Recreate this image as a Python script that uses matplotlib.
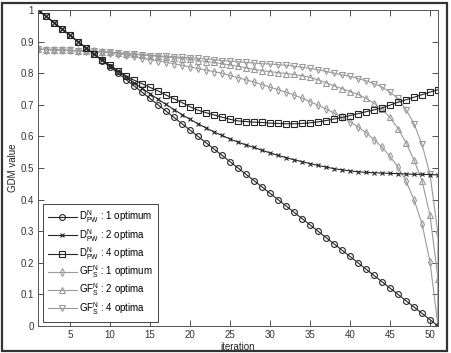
import matplotlib
matplotlib.use("Agg")
import matplotlib.pyplot as plt
from matplotlib.patches import Rectangle

plt.rcParams['font.family'] = ['Liberation Sans', 'DejaVu Sans']
plt.rcParams['mathtext.fontset'] = 'custom'
plt.rcParams['mathtext.rm'] = 'Liberation Sans'
plt.rcParams['mathtext.it'] = 'Liberation Sans:italic'
plt.rcParams['mathtext.bf'] = 'Liberation Sans:bold'

iterations = list(range(1, 52))

d_pw_1opt = [1.00, 0.98, 0.96, 0.94, 0.92, 0.90, 0.88, 0.86, 0.84, 0.82,
             0.80, 0.78, 0.76, 0.74, 0.72, 0.70, 0.68, 0.66, 0.64, 0.62,
             0.60, 0.58, 0.56, 0.54, 0.52, 0.50, 0.48, 0.46, 0.44, 0.42,
             0.40, 0.38, 0.36, 0.34, 0.32, 0.30, 0.28, 0.26, 0.24, 0.22,
             0.20, 0.18, 0.16, 0.14, 0.12, 0.10, 0.08, 0.06, 0.04, 0.02, 0.00]

d_pw_2opt = [1.000, 0.980, 0.960, 0.940, 0.920, 0.900, 0.880, 0.860, 0.842, 0.824,
             0.806, 0.788, 0.770, 0.752, 0.735, 0.718, 0.701, 0.685, 0.669, 0.654,
             0.640, 0.627, 0.614, 0.603, 0.592, 0.582, 0.573, 0.565, 0.556, 0.548,
             0.540, 0.533, 0.526, 0.520, 0.514, 0.508, 0.503, 0.498, 0.494, 0.491,
             0.488, 0.486, 0.485, 0.484, 0.483, 0.482, 0.481, 0.480, 0.480, 0.479, 0.478]

d_pw_4opt = [1.000, 0.980, 0.960, 0.940, 0.920, 0.900, 0.880, 0.860, 0.842, 0.825,
             0.808, 0.792, 0.778, 0.767, 0.755, 0.744, 0.731, 0.719, 0.707, 0.694,
             0.683, 0.675, 0.668, 0.661, 0.654, 0.649, 0.647, 0.645, 0.644, 0.642,
             0.641, 0.640, 0.640, 0.641, 0.643, 0.646, 0.650, 0.655, 0.660, 0.666,
             0.672, 0.678, 0.684, 0.690, 0.699, 0.708, 0.716, 0.724, 0.732, 0.740, 0.748]

gf_s_1opt = [0.876, 0.875, 0.874, 0.873, 0.872, 0.871, 0.870, 0.869, 0.867, 0.865,
             0.862, 0.858, 0.853, 0.848, 0.843, 0.839, 0.835, 0.830, 0.825, 0.820,
             0.815, 0.810, 0.805, 0.800, 0.793, 0.786, 0.779, 0.772, 0.764, 0.756,
             0.748, 0.740, 0.731, 0.721, 0.710, 0.699, 0.687, 0.674, 0.660, 0.646,
             0.630, 0.612, 0.590, 0.566, 0.537, 0.503, 0.458, 0.400, 0.324, 0.203, 0.000]

gf_s_2opt = [0.876, 0.875, 0.874, 0.873, 0.872, 0.871, 0.870, 0.869, 0.868, 0.866,
             0.864, 0.862, 0.860, 0.858, 0.856, 0.853, 0.851, 0.849, 0.846, 0.844,
             0.840, 0.837, 0.834, 0.830, 0.826, 0.822, 0.817, 0.812, 0.808, 0.805,
             0.802, 0.799, 0.796, 0.792, 0.787, 0.779, 0.770, 0.760, 0.751, 0.742,
             0.733, 0.720, 0.705, 0.686, 0.660, 0.625, 0.580, 0.525, 0.460, 0.350, 0.150, 0.000]
gf_s_2opt_x = iterations + [51]

gf_s_4opt = [0.876, 0.875, 0.874, 0.873, 0.872, 0.871, 0.870, 0.869, 0.868, 0.866,
             0.864, 0.862, 0.860, 0.858, 0.856, 0.855, 0.853, 0.852, 0.850, 0.849,
             0.847, 0.845, 0.843, 0.840, 0.838, 0.836, 0.834, 0.832, 0.830, 0.829,
             0.827, 0.825, 0.822, 0.819, 0.815, 0.811, 0.806, 0.800, 0.795, 0.790,
             0.783, 0.776, 0.767, 0.756, 0.740, 0.720, 0.685, 0.640, 0.575, 0.480, 0.292, 0.000]
gf_s_4opt_x = iterations + [51]

labels = [r'$\mathrm{D}_{\mathrm{PW}}^{\mathrm{N}}$ : 1 optimum',
          r'$\mathrm{D}_{\mathrm{PW}}^{\mathrm{N}}$ : 2 optima',
          r'$\mathrm{D}_{\mathrm{PW}}^{\mathrm{N}}$ : 4 optima',
          r'$\mathrm{GF}_{\mathrm{S}}^{\mathrm{N}}$ : 1 optimum',
          r'$\mathrm{GF}_{\mathrm{S}}^{\mathrm{N}}$ : 2 optima',
          r'$\mathrm{GF}_{\mathrm{S}}^{\mathrm{N}}$ : 4 optima']

xticks = [5, 10, 15, 20, 25, 30, 35, 40, 45, 50]
yticks = [0, 0.1, 0.2, 0.3, 0.4, 0.5, 0.6, 0.7, 0.8, 0.9, 1]
ytick_labels = ['0', '0.1', '0.2', '0.3', '0.4', '0.5', '0.6', '0.7', '0.8', '0.9', '1']

dark = '#262626'
gray = '#9a9a9a'

fig = plt.figure(figsize=(4.51, 3.53), dpi=100)
ax = fig.add_axes([38/451, 1-326/353, 400/451, 316/353])

lw = 0.8
ms = 4.2
ax.plot(iterations, gf_s_1opt, color=gray, lw=lw, marker='d', ms=ms, mfc='none', mew=0.8, label=labels[3])
ax.plot(gf_s_2opt_x, gf_s_2opt, color=gray, lw=lw, marker='^', ms=ms, mfc='none', mew=0.8,
        markevery=list(range(51)), label=labels[4])
ax.plot(gf_s_4opt_x, gf_s_4opt, color=gray, lw=lw, marker='v', ms=ms, mfc='none', mew=0.8,
        markevery=list(range(51)), label=labels[5])
ax.plot(iterations, d_pw_1opt, color=dark, lw=lw, marker='o', ms=ms, mfc='none', mew=0.8, label=labels[0])
ax.plot(iterations, d_pw_2opt, color=dark, lw=lw, marker='x', ms=3.5, mew=0.8, label=labels[1])
ax.plot(iterations, d_pw_4opt, color=dark, lw=lw, marker='s', ms=3.8, mfc='none', mew=0.8, label=labels[2])

ax.set_xlim(1, 51)
ax.set_ylim(0, 1)
ax.set_xticks(xticks)
ax.set_yticks(yticks)
ax.set_yticklabels(ytick_labels)
ax.tick_params(direction='in', top=True, right=True, length=4, width=0.6,
               labelsize=7, colors='#333333', pad=3)
for s in ax.spines.values():
    s.set_linewidth(0.7)
    s.set_color('#555555')

ax.set_xlabel('iteration', fontsize=7, color='#222222', labelpad=1)
ax.set_ylabel('GDM value', fontsize=7, color='#222222', labelpad=2)

h, l = ax.get_legend_handles_labels()
order = [3, 4, 5, 0, 1, 2]
leg = ax.legend([h[i] for i in order], [l[i] for i in order], loc='lower left',
                bbox_to_anchor=(0.012, 0.014), fontsize=7, numpoints=1, fancybox=False,
                edgecolor='#444444', framealpha=1, borderpad=0.5, labelspacing=0.15,
                handlelength=3.0, handletextpad=0.25, borderaxespad=0)
leg.get_frame().set_linewidth(0.7)

fig.patches.append(Rectangle((2/451, 2/353), 445/451, 348/353, transform=fig.transFigure,
                             fill=False, edgecolor='#333333', linewidth=1.6))

fig.savefig('out.png', dpi=100)
